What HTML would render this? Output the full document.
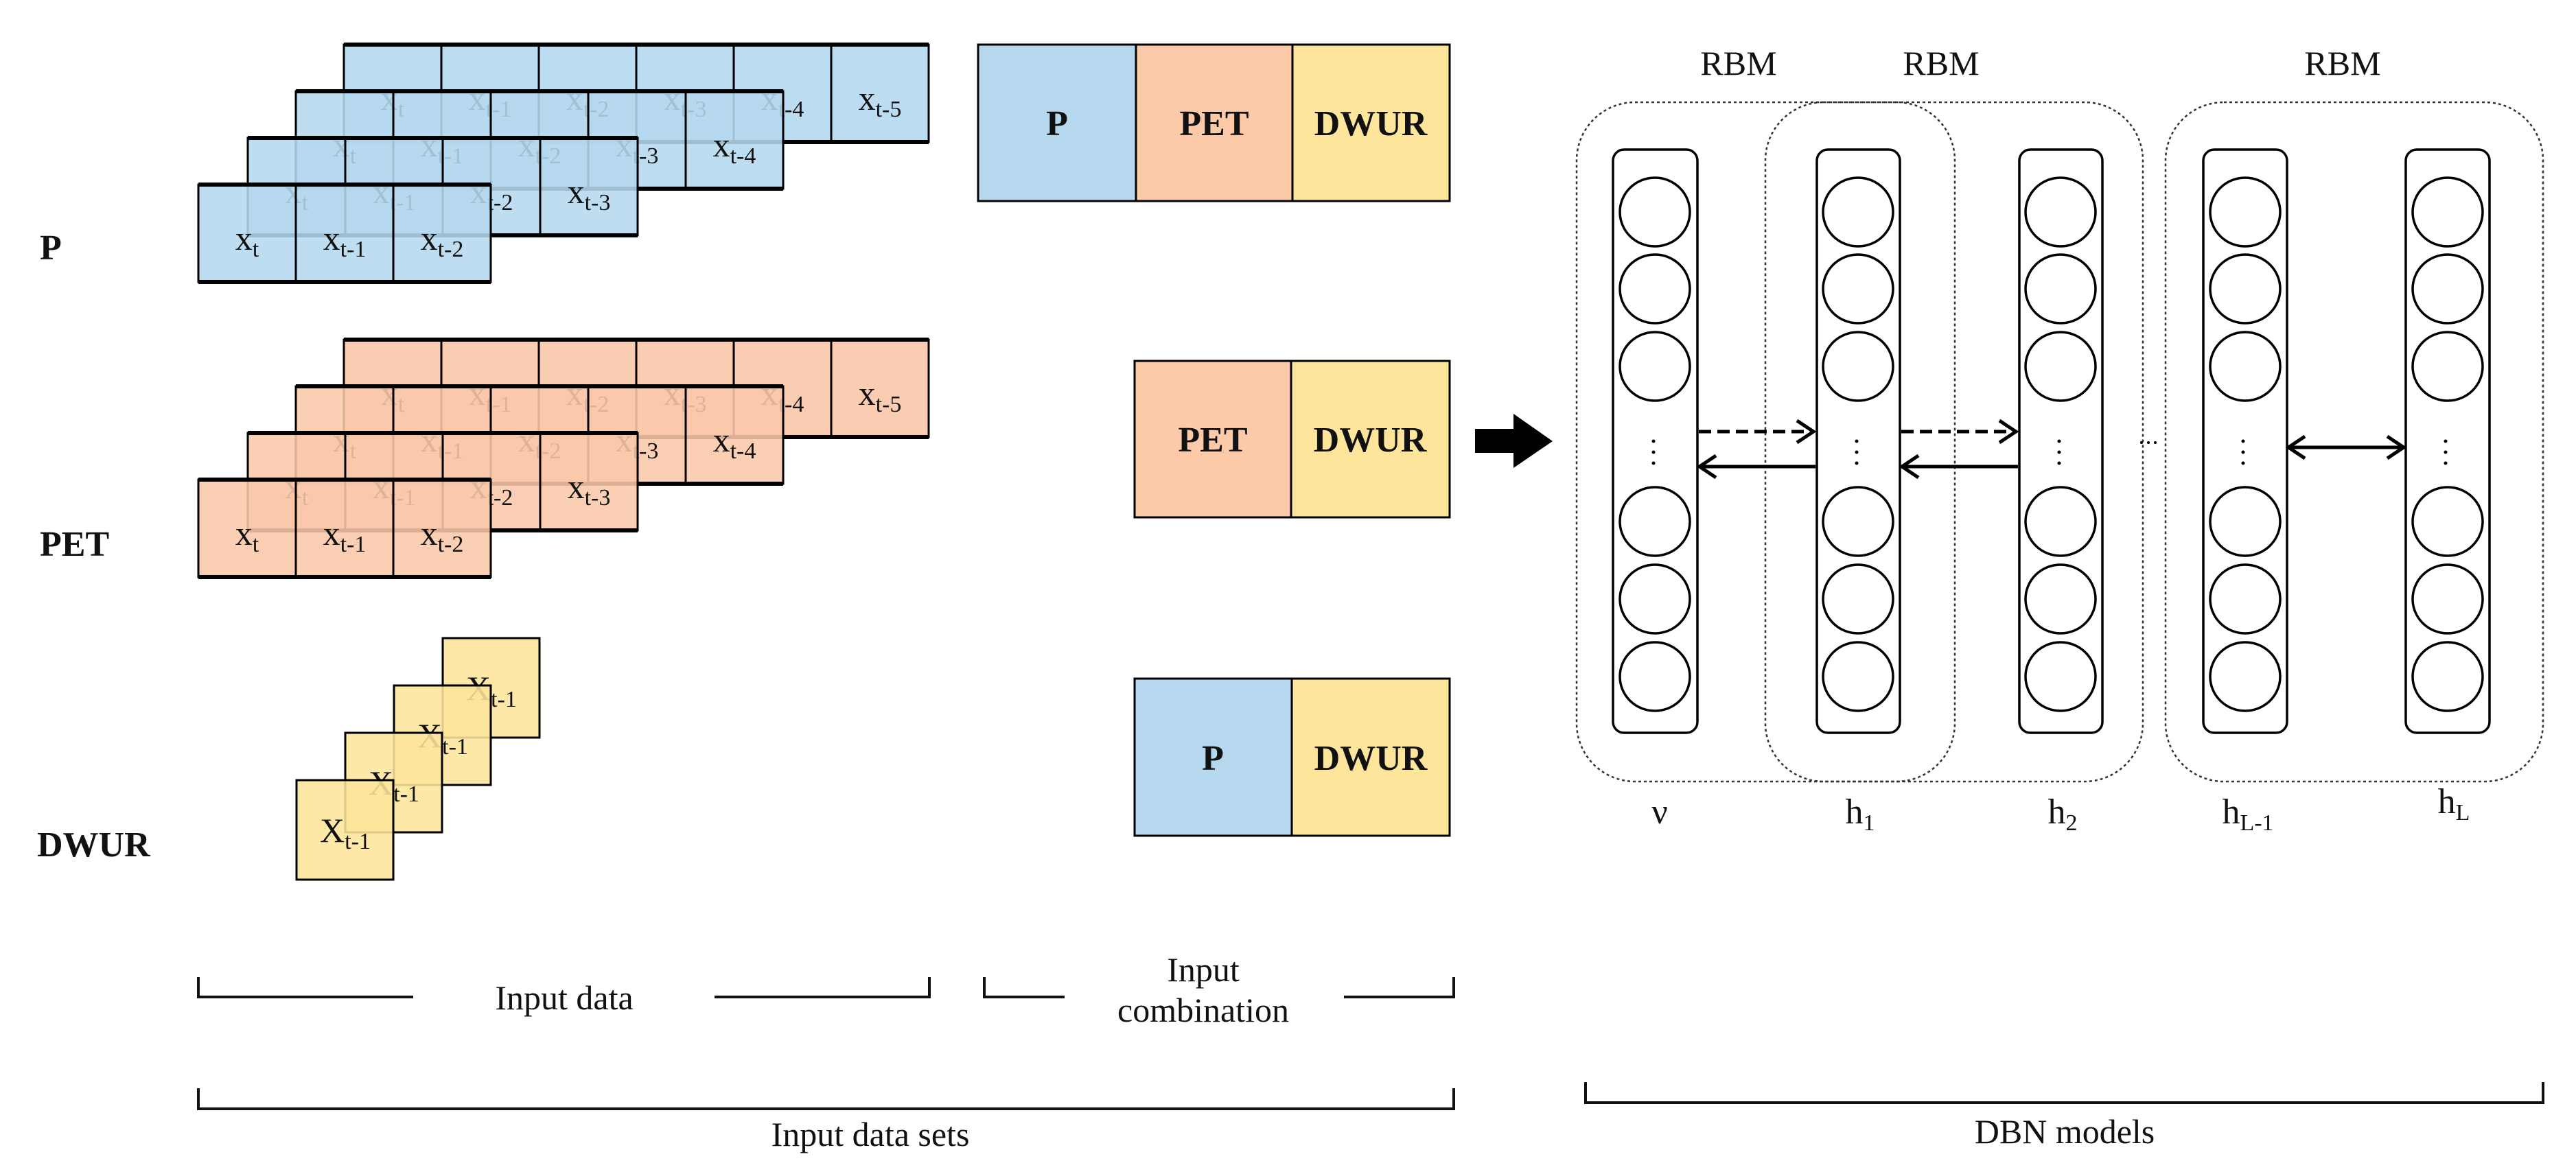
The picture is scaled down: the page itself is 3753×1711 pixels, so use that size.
<!DOCTYPE html>
<html><head><meta charset="utf-8"><style>
html,body{margin:0;padding:0;background:#fff;}
svg{display:block;}
text{font-family:"Liberation Serif",serif;fill:#111;}
</style></head><body>
<svg width="3753" height="1711" viewBox="0 0 3753 1711" xmlns="http://www.w3.org/2000/svg">

<!-- ================= P stack ================= -->
<g stroke="#000" stroke-width="3">
<rect x="501" y="65" width="852" height="142" fill="#b5d8ef" fill-opacity="0.9"/>
<line x1="643" y1="65" x2="643" y2="207"/><line x1="785" y1="65" x2="785" y2="207"/><line x1="927" y1="65" x2="927" y2="207"/><line x1="1069" y1="65" x2="1069" y2="207"/><line x1="1211" y1="65" x2="1211" y2="207"/>
<line x1="501" y1="65" x2="1353" y2="65" stroke-width="6"/><line x1="501" y1="207" x2="1353" y2="207" stroke-width="6"/>
</g>
<g font-size="50" text-anchor="middle">
<text x="572" y="160">x<tspan font-size="34" dy="10">t</tspan></text>
<text x="714" y="160">x<tspan font-size="34" dy="10">t-1</tspan></text>
<text x="856" y="160">x<tspan font-size="34" dy="10">t-2</tspan></text>
<text x="998" y="160">x<tspan font-size="34" dy="10">t-3</tspan></text>
<text x="1140" y="160">x<tspan font-size="34" dy="10">t-4</tspan></text>
<text x="1282" y="160">x<tspan font-size="34" dy="10">t-5</tspan></text>
</g>
<g stroke="#000" stroke-width="3">
<rect x="431" y="133" width="710" height="142" fill="#b5d8ef" fill-opacity="0.88"/>
<line x1="573" y1="133" x2="573" y2="275"/><line x1="715" y1="133" x2="715" y2="275"/><line x1="857" y1="133" x2="857" y2="275"/><line x1="999" y1="133" x2="999" y2="275"/>
<line x1="431" y1="133" x2="1141" y2="133" stroke-width="6"/><line x1="431" y1="275" x2="1141" y2="275" stroke-width="6"/>
</g>
<g font-size="50" text-anchor="middle">
<text x="502" y="228">x<tspan font-size="34" dy="10">t</tspan></text>
<text x="644" y="228">x<tspan font-size="34" dy="10">t-1</tspan></text>
<text x="786" y="228">x<tspan font-size="34" dy="10">t-2</tspan></text>
<text x="928" y="228">x<tspan font-size="34" dy="10">t-3</tspan></text>
<text x="1070" y="228">x<tspan font-size="34" dy="10">t-4</tspan></text>
</g>
<g stroke="#000" stroke-width="3">
<rect x="361" y="201" width="568" height="142" fill="#b5d8ef" fill-opacity="0.88"/>
<line x1="503" y1="201" x2="503" y2="343"/><line x1="645" y1="201" x2="645" y2="343"/><line x1="787" y1="201" x2="787" y2="343"/>
<line x1="361" y1="201" x2="929" y2="201" stroke-width="6"/><line x1="361" y1="343" x2="929" y2="343" stroke-width="6"/>
</g>
<g font-size="50" text-anchor="middle">
<text x="432" y="296">x<tspan font-size="34" dy="10">t</tspan></text>
<text x="574" y="296">x<tspan font-size="34" dy="10">t-1</tspan></text>
<text x="716" y="296">x<tspan font-size="34" dy="10">t-2</tspan></text>
<text x="858" y="296">x<tspan font-size="34" dy="10">t-3</tspan></text>
</g>
<g stroke="#000" stroke-width="3">
<rect x="289" y="269" width="426" height="142" fill="#b5d8ef" fill-opacity="0.88"/>
<line x1="431" y1="269" x2="431" y2="411"/><line x1="573" y1="269" x2="573" y2="411"/>
<line x1="289" y1="269" x2="715" y2="269" stroke-width="6"/><line x1="289" y1="411" x2="715" y2="411" stroke-width="6"/>
</g>
<g font-size="50" text-anchor="middle">
<text x="360" y="364">x<tspan font-size="34" dy="10">t</tspan></text>
<text x="502" y="364">x<tspan font-size="34" dy="10">t-1</tspan></text>
<text x="644" y="364">x<tspan font-size="34" dy="10">t-2</tspan></text>
</g>
<text x="58" y="378" font-size="52" font-weight="bold">P</text>

<!-- ================= PET stack ================= -->
<g transform="translate(0,430)">
<g stroke="#000" stroke-width="3">
<rect x="501" y="65" width="852" height="142" fill="#f9c8aa" fill-opacity="0.9"/>
<line x1="643" y1="65" x2="643" y2="207"/><line x1="785" y1="65" x2="785" y2="207"/><line x1="927" y1="65" x2="927" y2="207"/><line x1="1069" y1="65" x2="1069" y2="207"/><line x1="1211" y1="65" x2="1211" y2="207"/>
<line x1="501" y1="65" x2="1353" y2="65" stroke-width="6"/><line x1="501" y1="207" x2="1353" y2="207" stroke-width="6"/>
</g>
<g font-size="50" text-anchor="middle">
<text x="572" y="160">x<tspan font-size="34" dy="10">t</tspan></text>
<text x="714" y="160">x<tspan font-size="34" dy="10">t-1</tspan></text>
<text x="856" y="160">x<tspan font-size="34" dy="10">t-2</tspan></text>
<text x="998" y="160">x<tspan font-size="34" dy="10">t-3</tspan></text>
<text x="1140" y="160">x<tspan font-size="34" dy="10">t-4</tspan></text>
<text x="1282" y="160">x<tspan font-size="34" dy="10">t-5</tspan></text>
</g>
<g stroke="#000" stroke-width="3">
<rect x="431" y="133" width="710" height="142" fill="#f9c8aa" fill-opacity="0.88"/>
<line x1="573" y1="133" x2="573" y2="275"/><line x1="715" y1="133" x2="715" y2="275"/><line x1="857" y1="133" x2="857" y2="275"/><line x1="999" y1="133" x2="999" y2="275"/>
<line x1="431" y1="133" x2="1141" y2="133" stroke-width="6"/><line x1="431" y1="275" x2="1141" y2="275" stroke-width="6"/>
</g>
<g font-size="50" text-anchor="middle">
<text x="502" y="228">x<tspan font-size="34" dy="10">t</tspan></text>
<text x="644" y="228">x<tspan font-size="34" dy="10">t-1</tspan></text>
<text x="786" y="228">x<tspan font-size="34" dy="10">t-2</tspan></text>
<text x="928" y="228">x<tspan font-size="34" dy="10">t-3</tspan></text>
<text x="1070" y="228">x<tspan font-size="34" dy="10">t-4</tspan></text>
</g>
<g stroke="#000" stroke-width="3">
<rect x="361" y="201" width="568" height="142" fill="#f9c8aa" fill-opacity="0.88"/>
<line x1="503" y1="201" x2="503" y2="343"/><line x1="645" y1="201" x2="645" y2="343"/><line x1="787" y1="201" x2="787" y2="343"/>
<line x1="361" y1="201" x2="929" y2="201" stroke-width="6"/><line x1="361" y1="343" x2="929" y2="343" stroke-width="6"/>
</g>
<g font-size="50" text-anchor="middle">
<text x="432" y="296">x<tspan font-size="34" dy="10">t</tspan></text>
<text x="574" y="296">x<tspan font-size="34" dy="10">t-1</tspan></text>
<text x="716" y="296">x<tspan font-size="34" dy="10">t-2</tspan></text>
<text x="858" y="296">x<tspan font-size="34" dy="10">t-3</tspan></text>
</g>
<g stroke="#000" stroke-width="3">
<rect x="289" y="269" width="426" height="142" fill="#f9c8aa" fill-opacity="0.88"/>
<line x1="431" y1="269" x2="431" y2="411"/><line x1="573" y1="269" x2="573" y2="411"/>
<line x1="289" y1="269" x2="715" y2="269" stroke-width="6"/><line x1="289" y1="411" x2="715" y2="411" stroke-width="6"/>
</g>
<g font-size="50" text-anchor="middle">
<text x="360" y="364">x<tspan font-size="34" dy="10">t</tspan></text>
<text x="502" y="364">x<tspan font-size="34" dy="10">t-1</tspan></text>
<text x="644" y="364">x<tspan font-size="34" dy="10">t-2</tspan></text>
</g>
</g>
<text x="58" y="810" font-size="52" font-weight="bold">PET</text>

<!-- ================= DWUR stack ================= -->
<rect x="645" y="930" width="141" height="145" stroke="#000" stroke-width="3" fill="#fde59b" fill-opacity="0.88"/>
<text x="716" y="1020" font-size="50" text-anchor="middle">X<tspan font-size="34" dy="10">t-1</tspan></text>
<rect x="574" y="999" width="141" height="145" stroke="#000" stroke-width="3" fill="#fde59b" fill-opacity="0.88"/>
<text x="645" y="1089" font-size="50" text-anchor="middle">X<tspan font-size="34" dy="10">t-1</tspan></text>
<rect x="503" y="1068" width="141" height="145" stroke="#000" stroke-width="3" fill="#fde59b" fill-opacity="0.88"/>
<text x="574" y="1158" font-size="50" text-anchor="middle">X<tspan font-size="34" dy="10">t-1</tspan></text>
<rect x="432" y="1137" width="141" height="145" stroke="#000" stroke-width="3" fill="#fde59b" fill-opacity="0.88"/>
<text x="503" y="1227" font-size="50" text-anchor="middle">X<tspan font-size="34" dy="10">t-1</tspan></text>
<text x="54" y="1248" font-size="52" font-weight="bold">DWUR</text>

<!-- ================= Combinations ================= -->
<g stroke="#000" stroke-width="3">
<rect x="1425" y="65" width="230" height="228" fill="#b5d8ef"/>
<rect x="1655" y="65" width="228" height="228" fill="#fcc9a9"/>
<rect x="1883" y="65" width="229" height="228" fill="#fde59b"/>
<rect x="1653" y="526" width="228" height="228" fill="#fcc9a9"/>
<rect x="1881" y="526" width="231" height="228" fill="#fde59b"/>
<rect x="1653" y="989" width="229" height="229" fill="#b5d8ef"/>
<rect x="1882" y="989" width="230" height="229" fill="#fde59b"/>
</g>
<g font-size="52" font-weight="bold" text-anchor="middle">
<text x="1540" y="197">P</text><text x="1769" y="197">PET</text><text x="1997" y="197">DWUR</text>
<text x="1767" y="658">PET</text><text x="1996" y="658">DWUR</text>
<text x="1767" y="1122">P</text><text x="1997" y="1122">DWUR</text>
</g>

<!-- ================= Brackets ================= -->
<g stroke="#111" stroke-width="4" fill="none">
<path d="M289,1424 V1453 H602"/><path d="M1041,1453 H1354 V1424"/>
<path d="M1434,1424 V1453 H1551"/><path d="M1958,1453 H2118 V1424"/>
<path d="M289,1586 V1616 H2118 V1586"/>
<path d="M2310,1577 V1607 H3705 V1577"/>
</g>
<g font-size="50" text-anchor="middle">
<text x="822" y="1471">Input data</text>
<text x="1753" y="1430">Input</text>
<text x="1753" y="1489">combination</text>
<text x="1268" y="1670">Input data sets</text>
<text x="3008" y="1666">DBN models</text>
</g>

<!-- big arrow -->
<path d="M2149,625 H2205 V603 L2262,643 L2205,682 V660 H2149 Z" fill="#000"/>

<!-- ================= DBN ================= -->
<g stroke="#333" stroke-width="2.5" stroke-dasharray="4,4" fill="none">
<rect x="2297" y="149" width="551" height="990" rx="85"/>
<rect x="2572" y="149" width="550" height="990" rx="85"/>
<rect x="3155" y="149" width="550" height="990" rx="85"/>
</g>
<g font-size="50" text-anchor="middle">
<text x="2533" y="109">RBM</text><text x="2828" y="109">RBM</text><text x="3413" y="109">RBM</text>
</g>
<g stroke="#000" stroke-width="3.5" fill="none">
<rect x="2350" y="218" width="123" height="850" rx="16"/>
<rect x="2647" y="218" width="121" height="850" rx="16"/>
<rect x="2942" y="218" width="121" height="850" rx="16"/>
<rect x="3210" y="218" width="122" height="850" rx="16"/>
<rect x="3505" y="218" width="122" height="850" rx="16"/>
<ellipse cx="2411" cy="309" rx="51" ry="50"/><ellipse cx="2411" cy="421" rx="51" ry="50"/><ellipse cx="2411" cy="534" rx="51" ry="50"/><ellipse cx="2411" cy="760" rx="51" ry="50"/><ellipse cx="2411" cy="873" rx="51" ry="50"/><ellipse cx="2411" cy="986" rx="51" ry="50"/>
<ellipse cx="2707" cy="309" rx="51" ry="50"/><ellipse cx="2707" cy="421" rx="51" ry="50"/><ellipse cx="2707" cy="534" rx="51" ry="50"/><ellipse cx="2707" cy="760" rx="51" ry="50"/><ellipse cx="2707" cy="873" rx="51" ry="50"/><ellipse cx="2707" cy="986" rx="51" ry="50"/>
<ellipse cx="3002" cy="309" rx="51" ry="50"/><ellipse cx="3002" cy="421" rx="51" ry="50"/><ellipse cx="3002" cy="534" rx="51" ry="50"/><ellipse cx="3002" cy="760" rx="51" ry="50"/><ellipse cx="3002" cy="873" rx="51" ry="50"/><ellipse cx="3002" cy="986" rx="51" ry="50"/>
<ellipse cx="3271" cy="309" rx="51" ry="50"/><ellipse cx="3271" cy="421" rx="51" ry="50"/><ellipse cx="3271" cy="534" rx="51" ry="50"/><ellipse cx="3271" cy="760" rx="51" ry="50"/><ellipse cx="3271" cy="873" rx="51" ry="50"/><ellipse cx="3271" cy="986" rx="51" ry="50"/>
<ellipse cx="3566" cy="309" rx="51" ry="50"/><ellipse cx="3566" cy="421" rx="51" ry="50"/><ellipse cx="3566" cy="534" rx="51" ry="50"/><ellipse cx="3566" cy="760" rx="51" ry="50"/><ellipse cx="3566" cy="873" rx="51" ry="50"/><ellipse cx="3566" cy="986" rx="51" ry="50"/>
</g>
<g fill="#000">
<circle cx="2409" cy="643" r="2.5"/><circle cx="2409" cy="659" r="2.5"/><circle cx="2409" cy="675" r="2.5"/>
<circle cx="2705" cy="643" r="2.5"/><circle cx="2705" cy="659" r="2.5"/><circle cx="2705" cy="675" r="2.5"/>
<circle cx="3000" cy="643" r="2.5"/><circle cx="3000" cy="659" r="2.5"/><circle cx="3000" cy="675" r="2.5"/>
<circle cx="3268" cy="643" r="2.5"/><circle cx="3268" cy="659" r="2.5"/><circle cx="3268" cy="675" r="2.5"/>
<circle cx="3563" cy="643" r="2.5"/><circle cx="3563" cy="659" r="2.5"/><circle cx="3563" cy="675" r="2.5"/>
<circle cx="3120" cy="645" r="2"/><circle cx="3130" cy="645" r="2"/><circle cx="3140" cy="645" r="2"/>
</g>
<g stroke="#000" stroke-width="5" fill="none">
<line x1="2475" y1="629" x2="2640" y2="629" stroke-dasharray="18,9"/>
<path d="M2618,613 L2642,629 L2618,645"/>
<line x1="2480" y1="680" x2="2645" y2="680"/>
<path d="M2500,664 L2476,680 L2500,696"/>
<line x1="2770" y1="629" x2="2935" y2="629" stroke-dasharray="18,9"/>
<path d="M2913,613 L2937,629 L2913,645"/>
<line x1="2775" y1="680" x2="2940" y2="680"/>
<path d="M2795,664 L2771,680 L2795,696"/>
<line x1="3336" y1="652" x2="3500" y2="652"/>
<path d="M3358,636 L3334,652 L3358,668"/>
<path d="M3478,636 L3502,652 L3478,668"/>
</g>
<g font-size="52" text-anchor="middle">
<text x="2418" y="1200">ν</text>
<text x="2710" y="1200">h<tspan font-size="34" dy="10">1</tspan></text>
<text x="3005" y="1200">h<tspan font-size="34" dy="10">2</tspan></text>
<text x="3275" y="1200">h<tspan font-size="34" dy="10">L-1</tspan></text>
<text x="3575" y="1185">h<tspan font-size="34" dy="10">L</tspan></text>
</g>
</svg>
</body></html>
